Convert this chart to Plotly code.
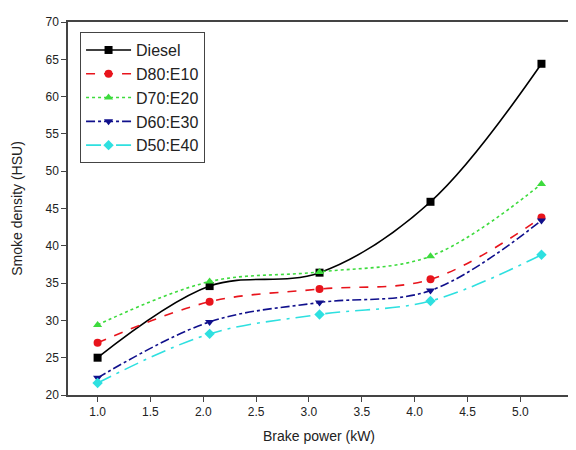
import plotly.graph_objects as go

brake_power = [1.0, 2.06, 3.1, 4.15, 5.2]
series_names = ["Diesel", "D80:E10", "D70:E20", "D60:E30", "D50:E40"]
diesel = [25.0, 34.6, 36.4, 45.9, 64.4]
d80_e10 = [27.0, 32.5, 34.2, 35.5, 43.8]
d70_e20 = [29.4, 35.2, 36.5, 38.6, 48.3]
d60_e30 = [22.3, 29.8, 32.4, 34.0, 43.4]
d50_e40 = [21.6, 28.2, 30.8, 32.6, 38.8]
x_ticks = [1.0, 1.5, 2.0, 2.5, 3.0, 3.5, 4.0, 4.5, 5.0, 5.5]
x_tick_labels = ["1.0", "1.5", "2.0", "2.5", "3.0", "3.5", "4.0", "4.5", "5.0", "5.5"]
y_ticks = [20, 25, 30, 35, 40, 45, 50, 55, 60, 65, 70]

values = [diesel, d80_e10, d70_e20, d60_e30, d50_e40]
colors = ["#000000", "#E8141C", "#3DDB3D", "#10108C", "#2EE0E0"]
dashes = ["solid", "dash", "dot", "dashdot", "longdashdot"]
symbols = ["square", "circle", "triangle-up", "triangle-down", "diamond"]

fig = go.Figure()
for i, (name, ys) in enumerate(zip(series_names, values)):
    fig.add_trace(go.Scatter(
        x=brake_power, y=ys, name=name, mode="lines+markers",
        line=dict(color=colors[i], width=1.6, dash=dashes[i], shape="spline"),
        marker=dict(symbol=symbols[i], size=8, color=colors[i]),
        legendgroup=name,
    ))

fig.update_layout(
    width=568, height=442,
    margin=dict(l=60, r=6, t=14, b=55, autoexpand=False),
    plot_bgcolor="white", paper_bgcolor="white",
    font=dict(family="Liberation Sans, Arial, sans-serif", color="#222222", size=12),
    showlegend=True,
    legend=dict(
        x=0.024, y=0.973, xanchor="left", yanchor="top",
        bordercolor="#444444", borderwidth=1, bgcolor="white",
        font=dict(size=16, color="#222222"),
        traceorder="grouped", tracegroupgap=0, itemwidth=45,
    ),
    xaxis=dict(
        range=[0.72, 5.47], tickvals=x_ticks, ticktext=x_tick_labels,
        showgrid=False, zeroline=False, automargin=False,
        showline=True, linecolor="#444444", linewidth=1.5, mirror=True,
        ticks="outside", ticklen=5, tickcolor="#444444",
        title=dict(text="Brake power (kW)", font=dict(size=14), standoff=13),
    ),
    yaxis=dict(
        range=[20, 70], tickvals=y_ticks,
        showgrid=False, zeroline=False, automargin=False,
        showline=True, linecolor="#444444", linewidth=1.5, mirror=True,
        ticks="outside", ticklen=5, tickcolor="#444444",
        title=dict(text="Smoke density (HSU)", font=dict(size=14), standoff=20),
    ),
)

fig.write_html("out.html")
